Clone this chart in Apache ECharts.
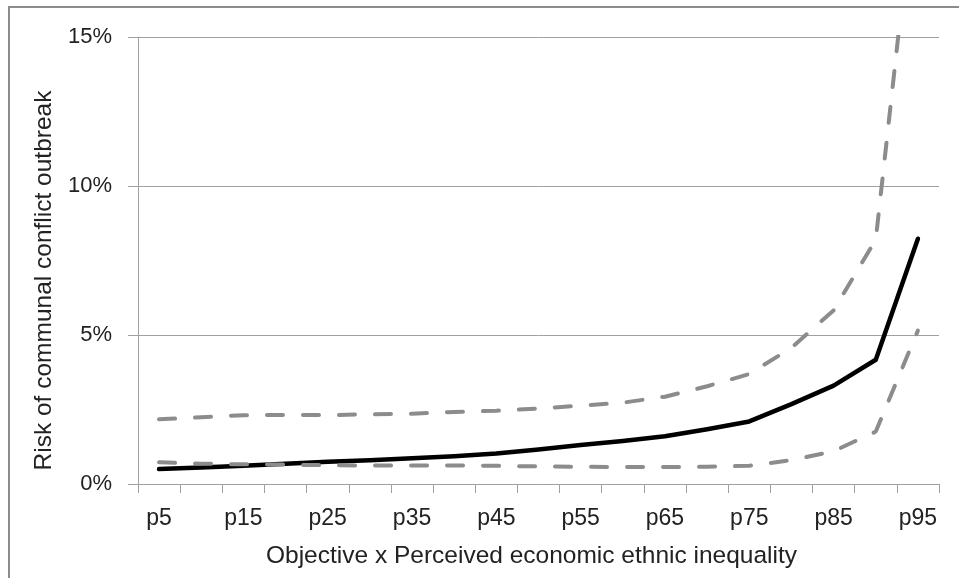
<!DOCTYPE html>
<html>
<head>
<meta charset="utf-8">
<script src="https://cdn.jsdelivr.net/npm/echarts@6/dist/echarts.min.js"></script>
<style>
html,body{margin:0;padding:0;background:#fff;}
#chart{width:959px;height:578px;}
</style>
</head>
<body>
<div id="chart"></div>
<script>
var categories = ['p5','p10','p15','p20','p25','p30','p35','p40','p45','p50','p55','p60','p65','p70','p75','p80','p85','p90','p95'];
var estimate = [0.0050,0.0055,0.0061,0.0068,0.0075,0.0080,0.0086,0.0093,0.0102,0.0116,0.0131,0.0144,0.0160,0.0184,0.0210,0.0268,0.0330,0.0417,0.0823];
var upperCI = [0.0217,0.0224,0.0231,0.0232,0.0231,0.0234,0.0236,0.0242,0.0246,0.0253,0.0263,0.0273,0.0293,0.0328,0.0369,0.0457,0.0583,0.0820,0.2100];
var lowerCI = [0.0073,0.0068,0.0066,0.0065,0.0063,0.0062,0.0062,0.0062,0.0061,0.0059,0.0058,0.0057,0.0057,0.0058,0.0061,0.0080,0.0110,0.0176,0.0515];
var yTicks = {min: 0, max: 0.15, interval: 0.05};
var xTitle = 'Objective x Perceived economic ethnic inequality';
var yTitle = 'Risk of communal conflict outbreak';

var FONT = '"Liberation Sans", Arial, sans-serif';
var chart = echarts.init(document.getElementById('chart'), null, {renderer: 'canvas'});
var dashStyle = {color: '#8c8c8c', width: 4, type: [16, 20], cap: 'round'};
chart.setOption({
  animation: false,
  backgroundColor: '#fff',
  graphic: [{
    type: 'rect', silent: true,
    shape: {x: 9, y: 7, width: 1200, height: 1000},
    style: {fill: 'none', stroke: '#8c8c8c', lineWidth: 2}
  }],
  grid: {left: 138, right: 20, top: 37, bottom: 94, containLabel: false},
  xAxis: {
    type: 'category',
    data: categories,
    boundaryGap: true,
    name: xTitle,
    nameLocation: 'middle',
    nameGap: 60,
    nameTextStyle: {fontFamily: FONT, fontSize: 24.5, color: '#222', padding: [0, 14, 0, 0]},
    axisLine: {show: true, lineStyle: {color: '#a0a0a0', width: 1}},
    axisTick: {show: true, interval: 0, length: 9, lineStyle: {color: '#a0a0a0'}},
    axisLabel: {interval: 1, margin: 23, fontFamily: FONT, fontSize: 23, color: '#222'},
    splitLine: {show: false}
  },
  yAxis: {
    type: 'value',
    min: yTicks.min, max: yTicks.max, interval: yTicks.interval,
    name: yTitle,
    nameLocation: 'middle',
    nameGap: 77,
    nameRotate: 90,
    nameTextStyle: {fontFamily: FONT, fontSize: 24.5, color: '#222', padding: [0, 40, 0, 0]},
    axisLine: {show: true, lineStyle: {color: '#a0a0a0', width: 1}},
    axisTick: {show: true, length: 10, lineStyle: {color: '#a0a0a0'}},
    axisLabel: {margin: 26, fontFamily: FONT, fontSize: 22, color: '#222',
      formatter: function (v) { return Math.round(v * 100) + '%'; }},
    splitLine: {show: true, lineStyle: {color: '#a0a0a0', width: 1}}
  },
  series: [
    {name: 'Estimate', type: 'line', data: estimate, symbol: 'none', clip: true,
     lineStyle: {color: '#000', width: 4.5, cap: 'round', join: 'round'}},
    {name: 'Upper', type: 'line', data: upperCI, symbol: 'none', clip: true,
     lineStyle: dashStyle},
    {name: 'Lower', type: 'line', data: lowerCI, symbol: 'none', clip: true,
     lineStyle: dashStyle}
  ]
});
</script>
</body>
</html>
